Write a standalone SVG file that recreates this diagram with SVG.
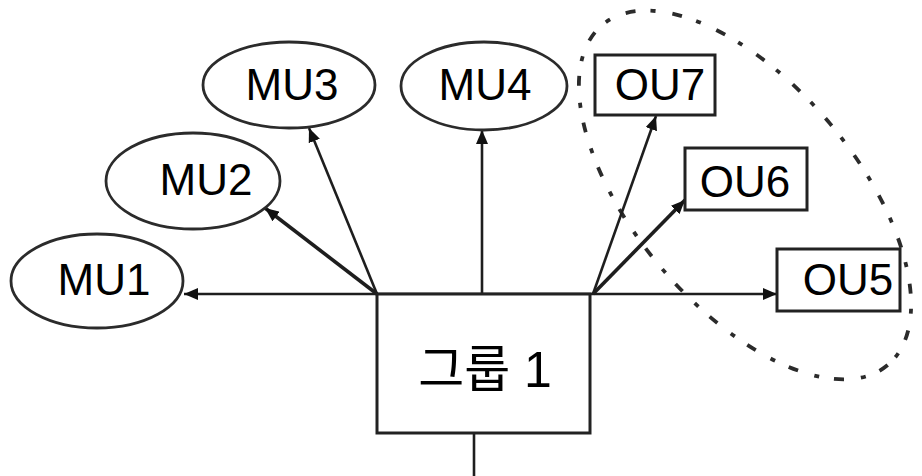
<svg xmlns="http://www.w3.org/2000/svg" width="922" height="476" viewBox="0 0 922 476">
  <style>
    .ell { fill: #ffffff; stroke: #2b2b2b; stroke-width: 2.8; }
    .box { fill: #ffffff; stroke: #222222; stroke-width: 3; }
    .lbl { font-family: "Liberation Sans", Arial, sans-serif; font-size: 44px; fill: #000000; text-anchor: middle; }
    .big { font-family: "Liberation Sans", "Noto Sans CJK KR", sans-serif; font-size: 50px; fill: #000000; text-anchor: middle; }
    .con { fill: none; stroke: #1e1e1e; stroke-width: 2.6; }
    .thick { stroke-width: 3.6; }
    .grp { fill: none; stroke: #2b2b2b; stroke-width: 3.8; stroke-dasharray: 10 15 5 17; }
  </style>
  <defs>
    <marker id="arr" viewBox="0 0 14 12" refX="14" refY="6" markerWidth="14" markerHeight="12" markerUnits="userSpaceOnUse" orient="auto">
      <path d="M0,0 L14,6 L0,12 z" fill="#111111"/>
    </marker>
  </defs>
  <rect width="922" height="476" fill="#ffffff"/>

  <g id="group-outline">
    <ellipse class="grp" cx="745" cy="195" rx="222" ry="111" transform="rotate(50 745 195)"/>
  </g>

  <g id="connectors">
    <line class="con" x1="377" y1="294" x2="593" y2="294"/>
    <line class="con" x1="377" y1="294" x2="184" y2="294" marker-end="url(#arr)"/>
    <line class="con thick" x1="377" y1="294" x2="265" y2="208" marker-end="url(#arr)"/>
    <line class="con" x1="377" y1="294" x2="309" y2="128" marker-end="url(#arr)"/>
    <line class="con" x1="482" y1="294" x2="482" y2="130" marker-end="url(#arr)"/>
    <line class="con" x1="593" y1="294" x2="656" y2="116" marker-end="url(#arr)"/>
    <line class="con thick" x1="593" y1="294" x2="685" y2="200" marker-end="url(#arr)"/>
    <line class="con" x1="593" y1="294" x2="777" y2="294" marker-end="url(#arr)"/>
    <line class="con" x1="474" y1="433" x2="474" y2="476"/>
  </g>

  <g id="MU1">
    <ellipse class="ell" cx="97" cy="281" rx="86" ry="47"/>
    <text class="lbl" x="104" y="295">MU1</text>
  </g>
  <g id="MU2">
    <ellipse class="ell" cx="193" cy="181" rx="87" ry="48"/>
    <text class="lbl" x="206" y="195">MU2</text>
  </g>
  <g id="MU3">
    <ellipse class="ell" cx="289" cy="85" rx="86" ry="43"/>
    <text class="lbl" x="292" y="100">MU3</text>
  </g>
  <g id="MU4">
    <ellipse class="ell" cx="484" cy="86" rx="83" ry="44"/>
    <text class="lbl" x="485" y="100">MU4</text>
  </g>
  <g id="OU7">
    <rect class="box" x="595" y="55" width="120" height="60"/>
    <text class="lbl" x="660" y="100">OU7</text>
  </g>
  <g id="OU6">
    <rect class="box" x="685" y="148" width="122" height="62"/>
    <text class="lbl" x="745" y="197">OU6</text>
  </g>
  <g id="OU5">
    <rect class="box" x="777" y="249" width="123" height="62"/>
    <text class="lbl" x="848" y="295">OU5</text>
  </g>
  <g id="group1">
    <rect class="box" x="377" y="294" width="213" height="139"/>
    <text class="big" x="485" y="387">그룹 1</text>
  </g>
</svg>
